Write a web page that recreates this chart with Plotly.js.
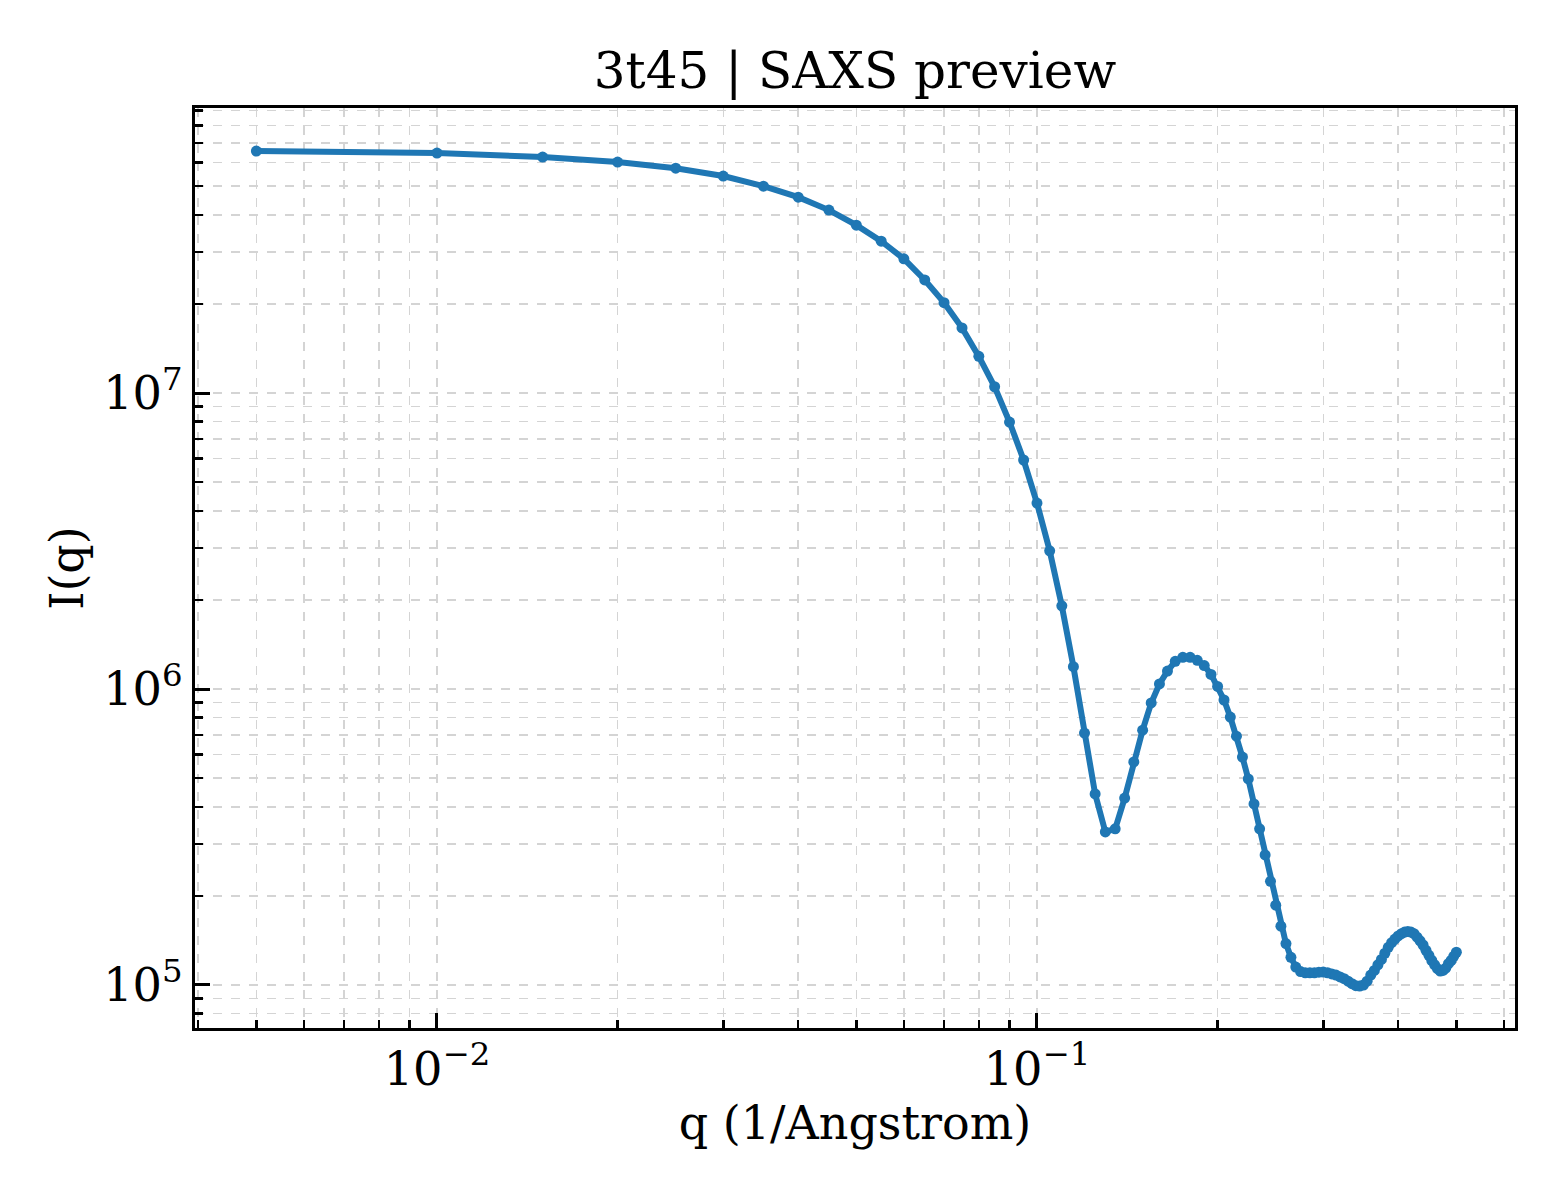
<!DOCTYPE html>
<html>
<head>
<meta charset="utf-8">
<script src="https://cdn.plot.ly/plotly-3.0.1.min.js"></script>
<style>
  body { margin: 0; background: #fff; }
  #grafik { width: 1560px; height: 1200px; }
</style>
</head>
<body>
<div id="grafik"></div>
<script>
// q grid (1/Angstrom)
const qValues = [
  0.005, 0.010, 0.015, 0.020, 0.025, 0.030, 0.035, 0.040, 0.045, 0.050,
  0.055, 0.060, 0.065, 0.070, 0.075, 0.080, 0.085, 0.090, 0.095, 0.100,
  0.105, 0.110, 0.115, 0.120, 0.125, 0.130, 0.135, 0.140, 0.145, 0.150,
  0.155, 0.160, 0.165, 0.170, 0.175, 0.180, 0.185, 0.190, 0.195, 0.200,
  0.205, 0.210, 0.215, 0.220, 0.225, 0.230, 0.235, 0.240, 0.245, 0.250,
  0.255, 0.260, 0.265, 0.270, 0.275, 0.280, 0.285, 0.290, 0.295, 0.300,
  0.305, 0.310, 0.315, 0.320, 0.325, 0.330, 0.335, 0.340, 0.345, 0.350,
  0.355, 0.360, 0.365, 0.370, 0.375, 0.380, 0.385, 0.390, 0.395, 0.400,
  0.405, 0.410, 0.415, 0.420, 0.425, 0.430, 0.435, 0.440, 0.445, 0.450,
  0.455, 0.460, 0.465, 0.470, 0.475, 0.480, 0.485, 0.490, 0.495, 0.500
];

// intensity I(q)
const intensity = [
  6.57e7, 6.47e7, 6.27e7, 6.03e7, 5.75e7, 5.41e7, 5.00e7, 4.59e7, 4.15e7, 3.69e7,
  3.26e7, 2.84e7, 2.41e7, 2.02e7, 1.66e7, 1.33e7, 1.05e7, 7.98e6, 5.94e6, 4.25e6,
  2.93e6, 1.91e6, 1.19e6, 7.10e5, 4.42e5, 3.29e5, 3.37e5, 4.28e5, 5.67e5, 7.26e5,
  8.97e5, 1.04e6, 1.15e6, 1.24e6, 1.28e6, 1.28e6, 1.25e6, 1.20e6, 1.12e6, 1.02e6,
  9.18e5, 8.04e5, 6.93e5, 5.89e5, 4.97e5, 4.09e5, 3.37e5, 2.75e5, 2.24e5, 1.86e5,
  1.58e5, 1.38e5, 1.24e5, 1.15e5, 1.11e5, 1.10e5, 1.10e5, 1.10e5, 1.105e5, 1.106e5,
  1.10e5, 1.09e5, 1.08e5, 1.065e5, 1.05e5, 1.03e5, 1.01e5, 9.95e4, 9.92e4, 1.00e5,
  1.03e5, 1.08e5, 1.12e5, 1.17e5, 1.22e5, 1.28e5, 1.34e5, 1.39e5, 1.43e5, 1.465e5,
  1.49e5, 1.51e5, 1.515e5, 1.51e5, 1.49e5, 1.45e5, 1.41e5, 1.365e5, 1.31e5, 1.26e5,
  1.21e5, 1.17e5, 1.135e5, 1.115e5, 1.12e5, 1.14e5, 1.18e5, 1.21e5, 1.25e5, 1.29e5
];

const font = "DejaVu Serif, Liberation Serif, serif";
const gridStyle = { showgrid: true, gridcolor: "#d4d4d4", gridwidth: 1.5, griddash: "dash" };

const data = [{
  x: qValues,
  y: intensity,
  mode: "lines+markers",
  type: "scatter",
  line: { color: "#1f77b4", width: 6 },
  marker: { color: "#1f77b4", size: 11 }
}];

function axis(extra) {
  return Object.assign({
    type: "log",
    dtick: 1,
    exponentformat: "power",
    showline: true,
    linecolor: "#000",
    linewidth: 3,
    mirror: true,
    ticks: "inside",
    ticklen: 15,
    tickwidth: 3,
    tickcolor: "#000",
    tickfont: { family: font, size: 37, color: "#000" },
    zeroline: false,
    minor: Object.assign({ dtick: "D1", ticks: "inside", ticklen: 8, tickwidth: 2.5, tickcolor: "#000" }, gridStyle)
  }, gridStyle, extra);
}

const layout = {
  width: 1560,
  height: 1200,
  paper_bgcolor: "#fff",
  plot_bgcolor: "#fff",
  showlegend: false,
  margin: { l: 195, r: 45, t: 108, b: 172 },
  font: { family: font, color: "#000" },
  title: {
    text: "3t45 | SAXS preview",
    font: { family: font, size: 50, color: "#000" },
    x: 0.5, xref: "paper", xanchor: "center",
    y: 1 - 70 / 1200, yref: "container", yanchor: "middle"
  },
  xaxis: axis({
    range: [-2.4033, -0.2033],
    ticklabelstandoff: 0,
    title: { text: "q (1/Angstrom)", font: { family: font, size: 46, color: "#000" }, standoff: 8 }
  }),
  yaxis: axis({
    range: [4.8547, 7.963],
    ticklabelstandoff: 2,
    title: { text: "I(q)", font: { family: font, size: 46, color: "#000" }, standoff: 6 }
  })
};

Plotly.newPlot("grafik", data, layout, { displayModeBar: false, staticPlot: true });
</script>
</body>
</html>
